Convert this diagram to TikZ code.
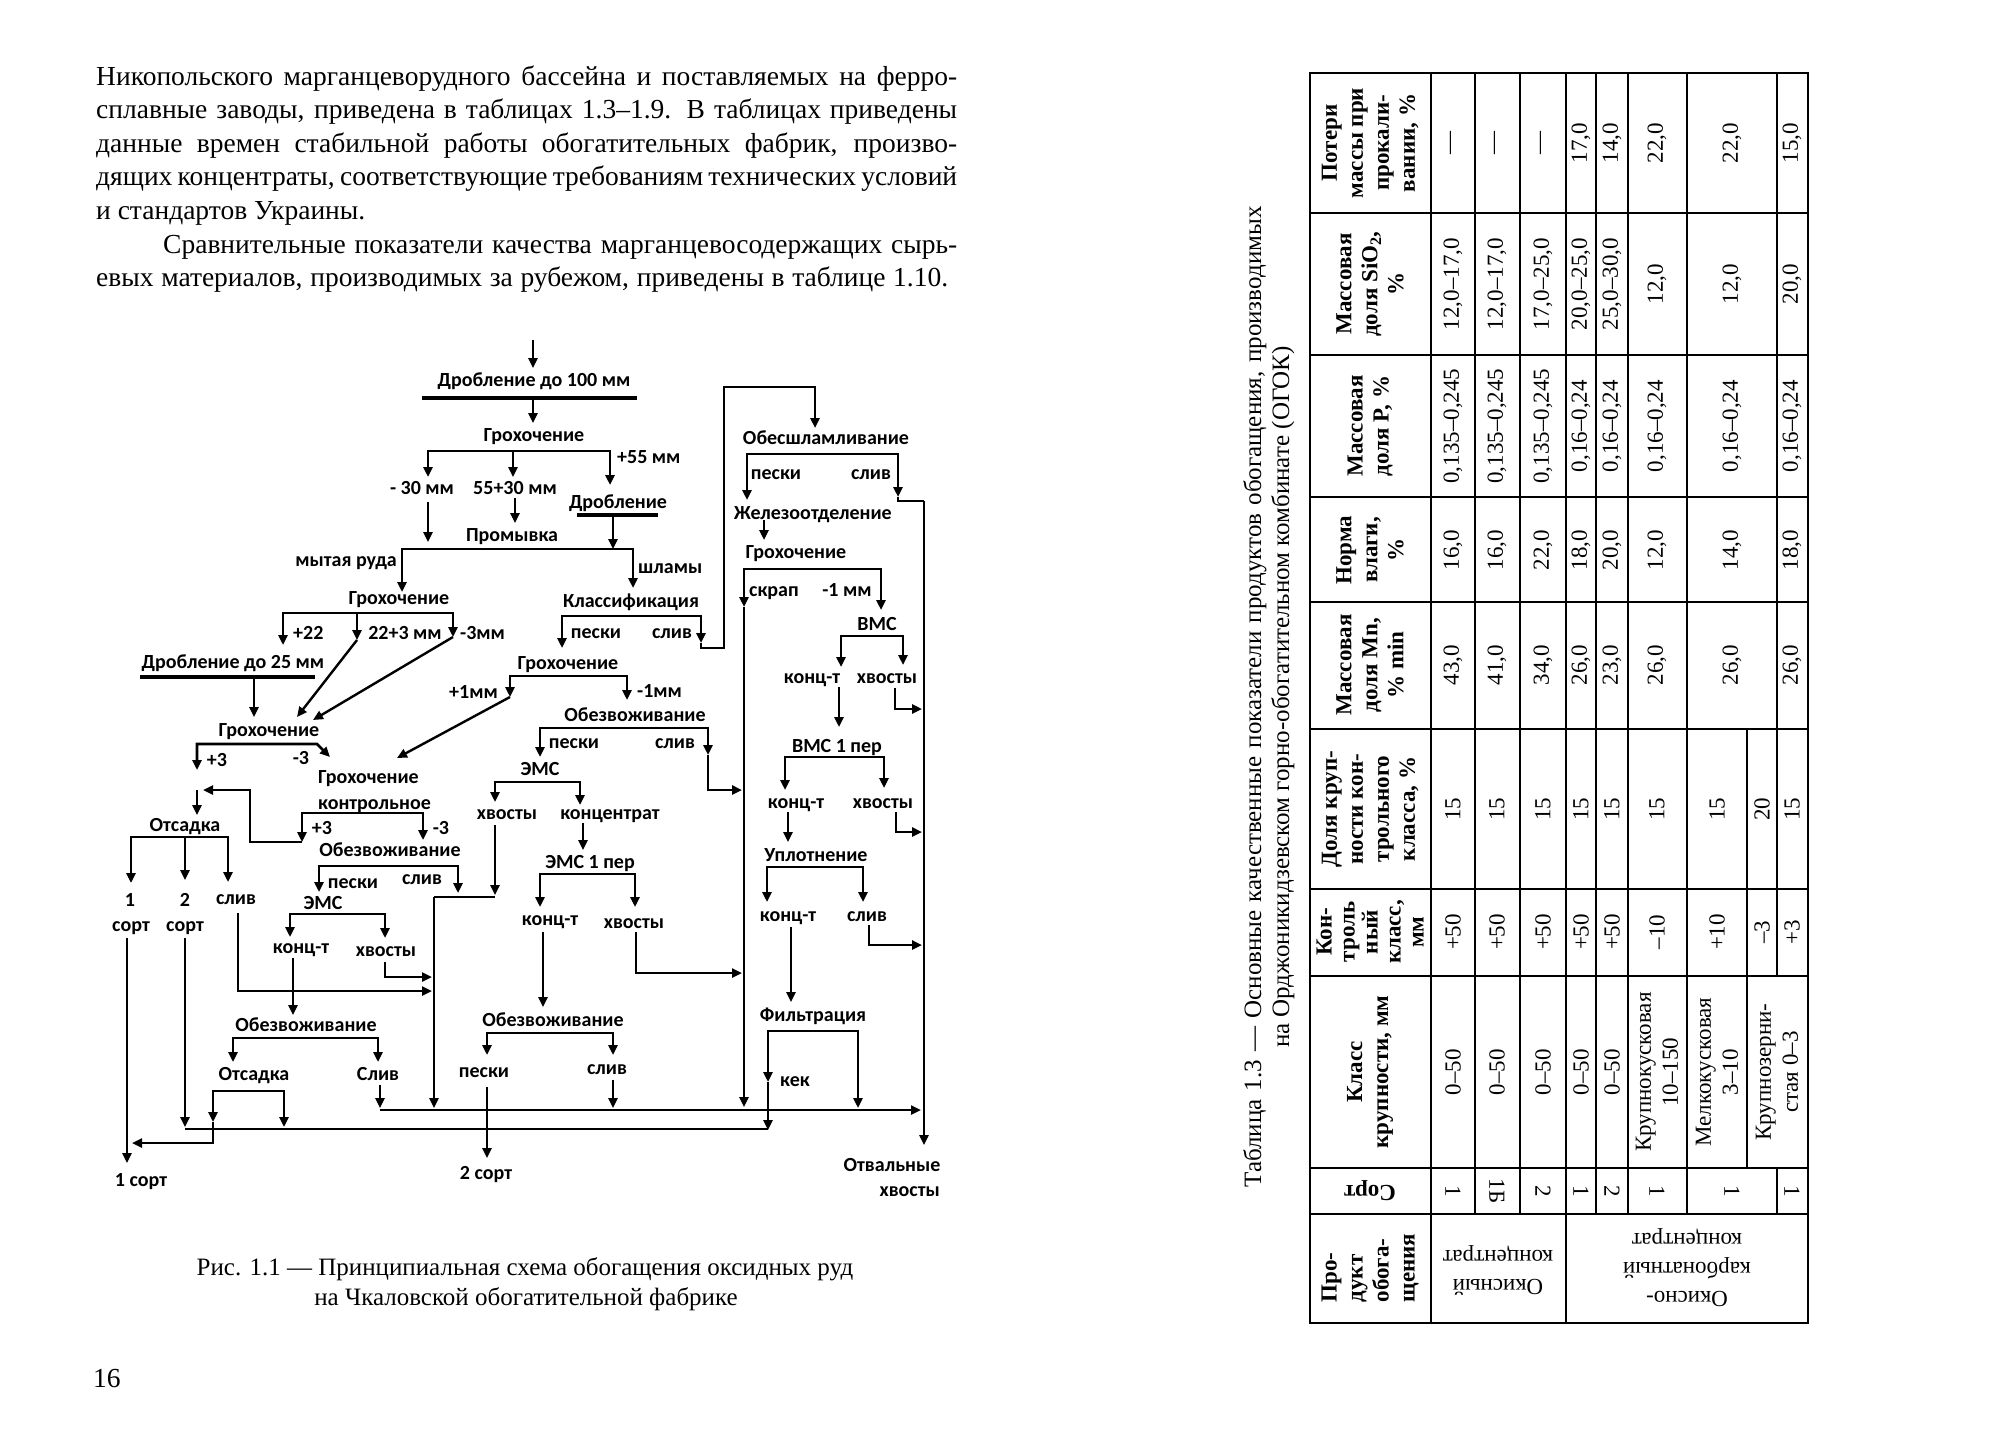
\documentclass[tikz,border=0pt]{standalone}
\usepackage{fontspec}
\setmainfont{Liberation Serif}
\newfontfamily\flowfont{Carlito}
\usetikzlibrary{arrows.meta}

\tikzset{
  fl/.style={font=\flowfont\bfseries\fontsize{20}{24}\selectfont, inner sep=0pt, text height=13pt, text depth=0pt},
  ar/.style={-{Triangle[length=10pt,width=9pt]}, line width=2.4pt},
  dar/.style={{Triangle[length=10pt,width=9pt]}-{Triangle[length=10pt,width=9pt]}, line width=2.6pt},
  br/.style={line width=2.6pt},
  ul/.style={line width=4pt},
  bt/.style={font=\fontsize{27.5}{33.6}\selectfont, inner sep=0pt, anchor=base west},
  cp/.style={font=\fontsize{25}{30}\selectfont, inner sep=0pt, anchor=base},
  tc/.style={font=\fontsize{25}{28}\selectfont, inner sep=0pt, anchor=base, rotate=90},
  tl/.style={line width=1.3pt},
  th/.style={font=\bfseries\fontsize{23}{26}\selectfont, inner sep=0pt, rotate=90, align=center},
  td/.style={font=\fontsize{23}{27}\selectfont, inner sep=0pt, rotate=90, align=center},
  ts/.style={font=\fontsize{23}{27}\selectfont, inner sep=0pt, rotate=-90},
  tp/.style={font=\fontsize{23}{29}\selectfont, inner sep=0pt, rotate=180, align=center}
}

\begin{document}
\begin{tikzpicture}[x=1pt, y=-1pt]
\useasboundingbox (0,0) rectangle (2000,1454);
\fill[white] (0,0) rectangle (2000,1454);

% Page text
\node[bt] (l1) at (96,85) {\makebox[861pt][s]{Никопольского марганцеворудного бассейна и поставляемых на ферро-}};
\node[bt] (l2) at (96,118.6) {\makebox[861pt][s]{сплавные заводы, приведена в таблицах 1.3–1.9. В таблицах приведены}};
\node[bt] (l3) at (96,152.2) {\makebox[861pt][s]{данные времен стабильной работы обогатительных фабрик, произво-}};
\node[bt] (l4) at (96,185.8) {\makebox[861pt][s]{дящих концентраты, соответствующие требованиям технических условий}};
\node[bt] (l5) at (96,219.4) {и стандартов Украины.};
\node[bt] (l6) at (163,253) {\makebox[794pt][s]{Сравнительные показатели качества марганцевосодержащих сырь-}};
\node[bt] (l7) at (96,286.6) {\makebox[852pt][s]{евых материалов, производимых за рубежом, приведены в таблице 1.10.}};

% Scheme: crushing and washing
\draw[ar] (533,340) -- (533,368);
\node[fl] (drob1) at (534,380) {Дробление до 100 мм};
\draw[ul] (422,398) -- (637,398);
\draw[ar] (533,398) -- (533,423);
\node[fl] (grox1) at (534,435) {Грохочение};
\draw[dar] (428,477) |- (610,451) -- (610,485);
\draw[ar] (513,451) -- (513,477);
\node[fl, anchor=west] (p55) at (617,457) {+55 мм};
\node[fl] (m30) at (422,488) {- 30 мм};
\node[fl] (m5530) at (515,488) {55+30 мм};
\node[fl] (drob2) at (618,502) {Дробление};
\draw[ul] (577,515) -- (658,515);
\draw[ar] (613,515) -- (613,549);
\draw[ar] (428,502) -- (428,542);
\draw[ar] (515,498) -- (515,523);
\node[fl] (prom) at (512,535) {Промывка};
\draw[dar] (402,592) |- (633,549) -- (633,588);
\node[fl, anchor=east] (myt) at (397,560) {мытая руда};
\node[fl, anchor=west] (shl) at (638,567) {шламы};
\node[fl] (grox2) at (399,598) {Грохочение};
\node[fl] (klass) at (631,601) {Классификация};

% Scheme: left branch
\draw[dar] (283,645) |- (453,613) -- (453,637);
\draw[ar] (357,613) -- (357,640);
\draw[ar] (357,640) -- (297,717);
\draw[ar] (453,637) -- (313,720);
\node[fl, anchor=west] (p22) at (293,633) {+22};
\node[fl] (m223) at (405,633) {22+3 мм};
\node[fl, anchor=west] (m3mm) at (460,633) {-3мм};
\node[fl] (drob3) at (233,662) {Дробление до 25 мм};
\draw[ul] (140,677) -- (315,677);
\draw[ar] (254,677) -- (254,717);
\node[fl] (grox3) at (269,730) {Грохочение};
\draw[dar] (197,770) |- (317,744) -- (330,757);
\node[fl] (p3a) at (217,760) {+3};
\node[fl] (m3a) at (301,758) {-3};

\draw[dar] (562,648) |- (701,616) -- (701,643);
\draw[ar] (701,643) -- (701,648) -| (724,387) -| (815,428);
\node[fl] (peski1) at (596,632) {пески};
\node[fl] (sliv1) at (672,632) {слив};
\node[fl] (grox4) at (568,663) {Грохочение};
\draw[dar] (510,697) |- (627,676) -- (627,700);
\draw[ar] (510,697) -- (397,758);
\node[fl, anchor=east] (p1mm) at (498,692) {+1мм};
\node[fl, anchor=west] (m1mm) at (637,691) {-1мм};

\node[fl, anchor=west] (kontr1) at (318,777) {Грохочение};
\node[fl, anchor=west] (kontr2) at (318,803) {контрольное};
\draw[dar] (302,842) |- (423,813) -- (423,840);
\node[fl] (p3b) at (322,828) {+3};
\node[fl] (m3b) at (441,828) {-3};
\draw[ar] (302,842) -- (250,842) -- (250,790) -- (203,790);
\draw[ar] (197,790) -- (197,815);

\node[fl] (ots1) at (185,825) {Отсадка};
\draw[dar] (131,883) |- (228,837) -- (228,882);
\draw[ar] (185,837) -- (185,880);
\node[fl] (s1a) at (130,900) {1};
\node[fl] (s1b) at (131,925) {сорт};
\node[fl] (s2a) at (185,900) {2};
\node[fl] (s2b) at (185,925) {сорт};
\node[fl] (sliv2) at (236,898) {слив};
\draw[ar] (127,938) -- (127,1163);
\draw[ar] (185,938) -- (185,1127);
\draw[ar] (238,913) -- (238,991) -- (432,991);

\node[fl] (obz1) at (390,850) {Обезвоживание};
\draw[dar] (319,892) |- (458,866) -- (458,893);
\node[fl] (peski2) at (353,882) {пески};
\node[fl] (sliv3) at (422,878) {слив};
\node[fl] (ems1) at (323,903) {ЭМС};
\draw[br] (434,897) -- (495,897);
\draw[ar] (434,897) -- (434,1108);
\draw[dar] (290,937) |- (385,914) -- (385,938);
\node[fl] (konc1) at (301,947) {конц-т};
\node[fl] (hv1) at (386,950) {хвосты};
\draw[ar] (293,958) -- (293,1015);
\draw[ar] (385,962) -- (385,977) -- (432,977);

\node[fl] (obz2) at (306,1025) {Обезвоживание};
\draw[dar] (233,1062) |- (378,1038) -- (378,1062);
\node[fl] (ots2) at (254,1074) {Отсадка};
\node[fl] (sliv4) at (378,1074) {Слив};
\draw[ar] (380,1085) -- (380,1108);
\draw[dar] (213,1122) |- (284,1091) -- (284,1127);
\draw[ar] (213,1122) -- (213,1143) -- (132,1143);
\draw[br] (185,1129) -- (768,1129);
\node[fl] (s1c) at (141,1180) {1 сорт};
\node[fl] (s2c) at (486,1173) {2 сорт};

% Scheme: middle branch
\node[fl] (obz3) at (635,715) {Обезвоживание};
\draw[dar] (540,757) |- (708,728) -- (708,755);
\draw[ar] (708,755) -- (708,790) -- (742,790);
\node[fl] (peski3) at (574,742) {пески};
\node[fl] (sliv5) at (675,742) {слив};
\node[fl] (ems2) at (540,769) {ЭМС};
\draw[dar] (495,802) |- (580,782) -- (580,805);
\node[fl] (hv2) at (507,813) {хвосты};
\node[fl] (konc2) at (610,813) {концентрат};
\draw[ar] (495,825) -- (495,895);
\draw[ar] (583,823) -- (583,850);
\node[fl] (ems3) at (590,862) {ЭМС 1 пер};
\draw[dar] (540,907) |- (635,874) -- (635,907);
\node[fl] (konc3) at (550,919) {конц-т};
\node[fl] (hv3) at (634,922) {хвосты};
\draw[ar] (543,932) -- (543,1007);
\draw[ar] (636,932) -- (636,973) -- (742,973);
\node[fl] (obz4) at (553,1020) {Обезвоживание};
\draw[dar] (487,1055) |- (613,1033) -- (613,1055);
\node[fl] (peski4) at (484,1071) {пески};
\node[fl] (sliv6) at (607,1068) {слив};
\draw[ar] (613,1080) -- (613,1108);
\draw[ar] (487,1087) -- (487,1158);

% Scheme: right branch
\node[fl] (obsh) at (826,438) {Обесшламливание};
\draw[dar] (747,500) |- (898,454) -- (898,497);
\draw[br] (898,497) -- (898,501) -- (924,501);
\draw[ar] (924,501) -- (924,1145);
\node[fl] (peski5) at (776,473) {пески};
\node[fl] (sliv7) at (871,473) {слив};
\node[fl] (zhel) at (813,513) {Железоотделение};
\draw[ar] (764,520) -- (764,540);
\node[fl] (grox5) at (796,552) {Грохочение};
\draw[dar] (744,607) |- (881,569) -- (881,610);
\draw[ar] (744,607) -- (744,1107);
\node[fl] (skr) at (774,590) {скрап};
\node[fl] (m1mmb) at (847,590) {-1 мм};
\node[fl] (vms1) at (877,624) {ВМС};
\draw[dar] (841,667) |- (903,636) -- (903,665);
\node[fl] (konc4) at (812,677) {конц-т};
\node[fl] (hv4) at (887,677) {хвосты};
\draw[ar] (895,688) -- (895,709) -- (922,709);
\draw[ar] (839,687) -- (839,727);
\node[fl] (vms2) at (837,746) {ВМС 1 пер};
\draw[dar] (785,790) |- (884,757) -- (884,788);
\node[fl] (konc5) at (796,802) {конц-т};
\node[fl] (hv5) at (883,802) {хвосты};
\draw[ar] (896,812) -- (896,832) -- (922,832);
\draw[ar] (788,812) -- (788,842);
\node[fl] (upl) at (816,855) {Уплотнение};
\draw[dar] (767,902) |- (863,867) -- (863,902);
\node[fl] (konc6) at (788,915) {конц-т};
\node[fl] (sliv8) at (867,915) {слив};
\draw[ar] (791,927) -- (791,1002);
\draw[ar] (869,925) -- (869,945) -- (922,945);
\node[fl] (filt) at (813,1015) {Фильтрация};
\draw[dar] (768,1082) |- (858,1031) -- (858,1108);
\draw[ar] (768,1082) -- (768,1130);
\node[fl, anchor=west] (kek) at (780,1080) {кек};
\draw[ar] (380,1110) -- (921,1110);
\node[fl] (otv1) at (892,1165) {Отвальные};
\node[fl, anchor=east] (otv2) at (940,1190) {хвосты};

% Captions
\node[cp] (cap1) at (525,1275) {Рис. 1.1 — Принципиальная схема обогащения оксидных руд};
\node[cp] (cap2) at (526,1305) {на Чкаловской обогатительной фабрике};
\node[bt] (pg) at (93,1387) {16};
\node[tc] (tc1) at (1261,697) {\makebox[981pt][s]{Таблица 1.3 — Основные качественные показатели продуктов обогащения, производимых}};
\node[tc] (tc2) at (1289,697) {на Орджоникидзевском горно-обогатительном комбинате (ОГОК)};

% Table grid
\draw[tl] (1310,73) rectangle (1808,1323);
\foreach \y in {213,355,497,602,729,889,976,1168,1214}
  \draw[tl] (1310,\y) -- (1808,\y);
\draw[tl] (1431,73) -- (1431,1323);
\draw[tl] (1566,73) -- (1566,1323);
\foreach \x in {1475,1520,1596,1628,1687}
  \draw[tl] (\x,73) -- (\x,1214);
\draw[tl] (1777,73) -- (1777,976);
\draw[tl] (1777,1168) -- (1777,1214);
\draw[tl] (1747,729) -- (1747,1168);

% Table head
\node[th] (h1) at (1370,143) {Потери\\массы при\\прокали-\\вании, \%};
\node[th] (h2) at (1370,284) {Массовая\\доля SiO\textsubscript{2},\\\%};
\node[th] (h3) at (1370,426) {Массовая\\доля P, \%};
\node[th] (h4) at (1370,550) {Норма\\влаги,\\\%};
\node[th] (h5) at (1370,665) {Массовая\\доля Mn,\\\% min};
\node[th] (h6) at (1370,809) {Доля круп-\\ности кон-\\трольного\\класса, \%};
\node[th, font=\bfseries\fontsize{23}{23}\selectfont] (h7) at (1370,932) {Кон-\\троль\\ный\\класс,\\мм};
\node[th] (h8) at (1370,1072) {Класс\\крупности, мм};
\node[font=\bfseries\fontsize{23}{26}\selectfont, inner sep=0pt, rotate=180] (h9) at (1370,1191) {Сорт};
\node[th, align=left] (h10) at (1370,1268) {Про-\\дукт\\обога-\\щения};

% Table body
\foreach \x/\v [count=\i] in {1453/—,1497/—,1543/—,1581/{17,0},1612/{14,0},1657/{22,0},1732/{22,0},1792/{15,0}}
  \node[td] (pt\i) at (\x,143) {\v};
\foreach \x/\v [count=\i] in {1453/{12,0–17,0},1497/{12,0–17,0},1543/{17,0–25,0},1581/{20,0–25,0},1612/{25,0–30,0},1657/{12,0},1732/{12,0},1792/{20,0}}
  \node[td] (si\i) at (\x,284) {\v};
\foreach \x/\v [count=\i] in {1453/{0,135–0,245},1497/{0,135–0,245},1543/{0,135–0,245},1581/{0,16–0,24},1612/{0,16–0,24},1657/{0,16–0,24},1732/{0,16–0,24},1792/{0,16–0,24}}
  \node[td] (ph\i) at (\x,426) {\v};
\foreach \x/\v [count=\i] in {1453/{16,0},1497/{16,0},1543/{22,0},1581/{18,0},1612/{20,0},1657/{12,0},1732/{14,0},1792/{18,0}}
  \node[td] (vl\i) at (\x,550) {\v};
\foreach \x/\v [count=\i] in {1453/{43,0},1497/{41,0},1543/{34,0},1581/{26,0},1612/{23,0},1657/{26,0},1732/{26,0},1792/{26,0}}
  \node[td] (mn\i) at (\x,665) {\v};
\foreach \x/\v [count=\i] in {1453/15,1497/15,1543/15,1581/15,1612/15,1657/15,1717/15,1762/20,1792/15}
  \node[td] (dl\i) at (\x,809) {\v};
\foreach \x/\v [count=\i] in {1453/+50,1497/+50,1543/+50,1581/+50,1612/+50,1657/–10,1717/+10,1762/–3,1792/+3}
  \node[td] (kk\i) at (\x,932) {\v};
\foreach \x [count=\i] in {1453,1497,1543,1581,1612}
  \node[td] (kl\i) at (\x,1072) {0–50};
\node[td] (kl6) at (1657,1072) {Крупнокусковая\\10–150};
\node[td] (kl7) at (1717,1072) {Мелкокусковая\\3–10};
\node[td] (kl8) at (1777,1072) {Крупнозерни-\\стая 0–3};
\foreach \x/\v [count=\i] in {1453/1,1497/1Б,1543/2,1581/1,1612/2,1657/1,1732/1,1792/1}
  \node[ts] (st\i) at (\x,1191) {\v};
\node[tp] (pr1) at (1498,1270) {Окисный\\концентрат};
\node[tp] (pr2) at (1687,1268) {Окисно-\\карбонатный\\концентрат};
\end{tikzpicture}
\end{document}
